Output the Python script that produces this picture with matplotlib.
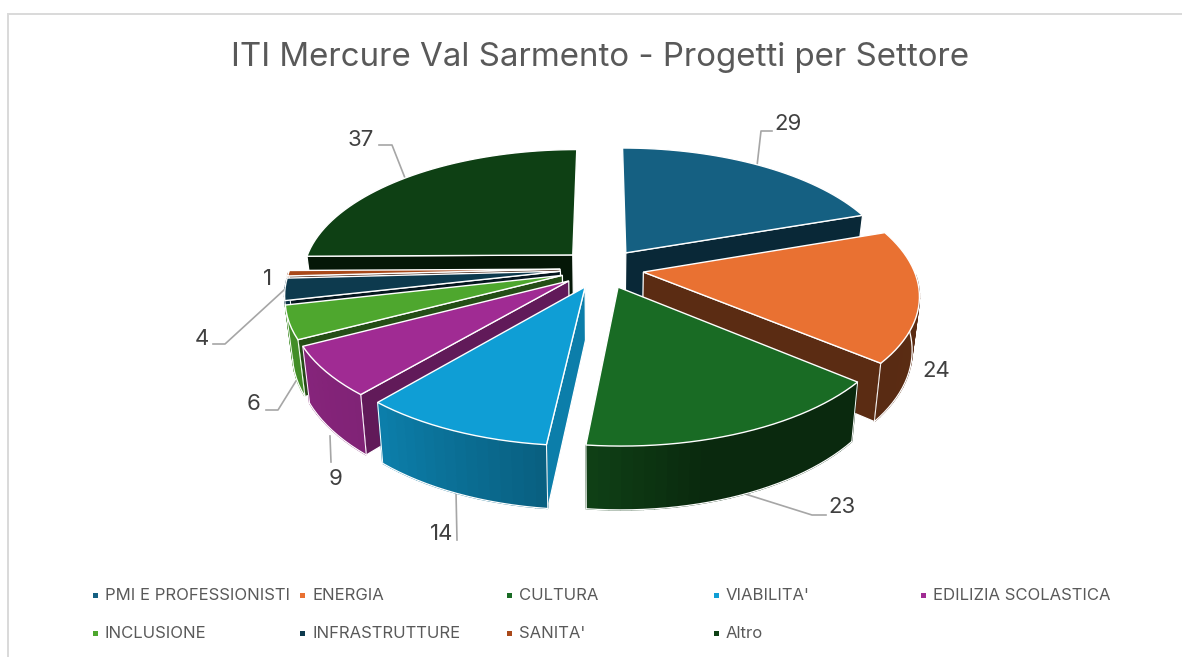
import numpy as np
import matplotlib
matplotlib.use("Agg")
import matplotlib.pyplot as plt
from matplotlib.patches import Polygon, Rectangle

categories = ["PMI E PROFESSIONISTI", "ENERGIA", "CULTURA", "VIABILITA'", "EDILIZIA SCOLASTICA",
              "INCLUSIONE", "INFRASTRUTTURE", "SANITA'", "Altro"]
values = [29, 24, 23, 14, 9, 6, 4, 1, 37]
colors = ["#156082", "#E97132", "#196B24", "#0F9ED5", "#A02B93",
          "#4EA72E", "#0D3A4E", "#A9491A", "#0E4014"]

title = "ITI Mercure Val Sarmento - Progetti per Settore"

# pie geometry in pixels
cx, cy = 602, 268.5
rx, ry = 270, 126.5
persp = 0.162
explode = 0.155
depth = 52
taper = 0.977

# where the value labels go, and their leader lines
label_xy = [(788, 124), (936, 371), (842, 507), (442, 534), (336, 479),
            (254, 404), (202, 339), (268, 279), (361, 140)]
leaders = [[(757, 166), (761, 131), (772, 131)],
           None,
           [(742, 493), (812, 515), (826, 515)],
           [(456, 492), (457, 540)],
           [(330, 436), (331, 462)],
           [(296, 381), (278, 410), (266, 410)],
           [(284, 290), (225, 344), (213, 344)],
           None,
           [(405, 178), (392, 145), (379, 145)]]

text_col = "#595959"
font = "Inter"


def project(u, v):
    s = 1 / (1 + persp * v)
    return cx + u * s * rx, cy - v * s * ry, s


def top_pt(ang, r, off):
    u = off[0] + r * np.sin(ang)
    v = off[1] + r * np.cos(ang)
    x, y, s = project(u, v)
    return np.column_stack([x, y]) if np.ndim(x) else np.array([x, y])


def bottom_pt(ang, r, off):
    u = off[0] + r * np.sin(ang)
    v = off[1] + r * np.cos(ang)
    x, y, s = project(u, v)
    x2 = cx + (x - cx) * taper
    y2 = y + depth * s
    return np.column_stack([x2, y2]) if np.ndim(x2) else np.array([x2, y2])


def shade(col, f):
    return tuple(np.array(matplotlib.colors.to_rgb(col)) * f)


def wall_shade(deg):
    return np.interp(deg, [0, 90, 130, 165, 186, 220, 260, 360],
                     [0.4, 0.4, 0.38, 0.38, 0.6, 0.8, 0.87, 0.87])


def face_shade(deg):
    # deg is the direction the radial side looks at, 180 is straight at the viewer
    return np.interp(deg, [96, 130, 152, 165, 180, 220], [0.8, 0.61, 0.47, 0.4, 0.35, 0.39])


plt.rcParams["font.family"] = [font, "DejaVu Sans"]
fig = plt.figure(figsize=(11.82, 6.57), dpi=100)
ax = fig.add_axes([0, 0, 1, 1])
ax.set_xlim(0, 1182)
ax.set_ylim(657, 0)
ax.axis("off")

ax.plot([7.5, 7.5, 1182], [657, 13.5, 13.5], color="#D9D9D9", lw=1.4, solid_joinstyle="miter")
ax.text(600.5, 57.5, title, ha="center", va="center", fontsize=23.8, color=text_col)

total = sum(values)
edges = np.cumsum([0] + values) / total * 2 * np.pi
slices = []
for i in range(len(values)):
    a0, a1 = edges[i], edges[i + 1]
    mid = (a0 + a1) / 2
    off = (explode * np.sin(mid), explode * np.cos(mid))
    slices.append((np.cos(mid), i, a0, a1, off))

# back slices first, the front ones paint over them
z = 3
for _, i, a0, a1, off in sorted(slices, key=lambda t: -t[0]):
    col = colors[i]
    arc = np.linspace(a0, a1, max(int((a1 - a0) * 30), 6))

    # radial sides, only the ones turned to the viewer
    for ang, nrm in [(a0, np.degrees(a0) - 90), (a1, np.degrees(a1) + 90)]:
        nrm = nrm % 360
        if nrm < 92 or nrm > 268:
            continue
        pts = [top_pt(ang, 0, off), top_pt(ang, 1, off), bottom_pt(ang, 1, off), bottom_pt(ang, 0, off)]
        ax.add_patch(Polygon(pts, closed=True, fc=shade(col, face_shade(nrm)), ec="white", lw=0.9, zorder=z))
        z += 1

    # outer wall, front part of the rim only
    t = top_pt(arc, 1, off)
    b = bottom_pt(arc, 1, off)
    front = np.where(np.cos(arc) < -0.02)[0]
    if len(front) > 1 and i != len(values) - 1:
        for j in front[:-1]:
            f = wall_shade(np.degrees((arc[j] + arc[j + 1]) / 2))
            c = shade(col, f)
            ax.add_patch(Polygon([t[j], t[j + 1], b[j + 1], b[j]], closed=True, fc=c, ec=c, lw=1.0, zorder=z))
        z += 1
        ax.plot(b[front, 0], b[front, 1], color="white", lw=0.9, zorder=z)
        ax.plot([t[front[0], 0], b[front[0], 0]], [t[front[0], 1], b[front[0], 1]], color="white", lw=0.7, zorder=z)
        ax.plot([t[front[-1], 0], b[front[-1], 0]], [t[front[-1], 1], b[front[-1], 1]], color="white", lw=0.7, zorder=z)
        z += 1

    outline = np.vstack([top_pt(a0, 0, off), t])
    ax.add_patch(Polygon(outline, closed=True, fc=col, ec="white", lw=1.0, joinstyle="miter", zorder=z))
    z += 1

for i, v in enumerate(values):
    if leaders[i] is not None:
        xs, ys = zip(*leaders[i])
        ax.plot(xs, ys, color="#A6A6A6", lw=1.2, zorder=2)
    ax.text(label_xy[i][0], label_xy[i][1], str(v), ha="center", va="center",
            fontsize=16, color="#404040")

# legend, two rows
leg_x = [95, 302, 509, 716, 923]
leg_y = [595, 633]
for i, name in enumerate(categories):
    x = leg_x[i % 5]
    y = leg_y[i // 5]
    ax.add_patch(Rectangle((x - 2.5, y - 2.5), 5, 5, fc=colors[i], ec="none"))
    ax.text(x + 10, y + 0.5, name, ha="left", va="center", fontsize=12.0, color=text_col)

fig.savefig("out.png", dpi=100)
